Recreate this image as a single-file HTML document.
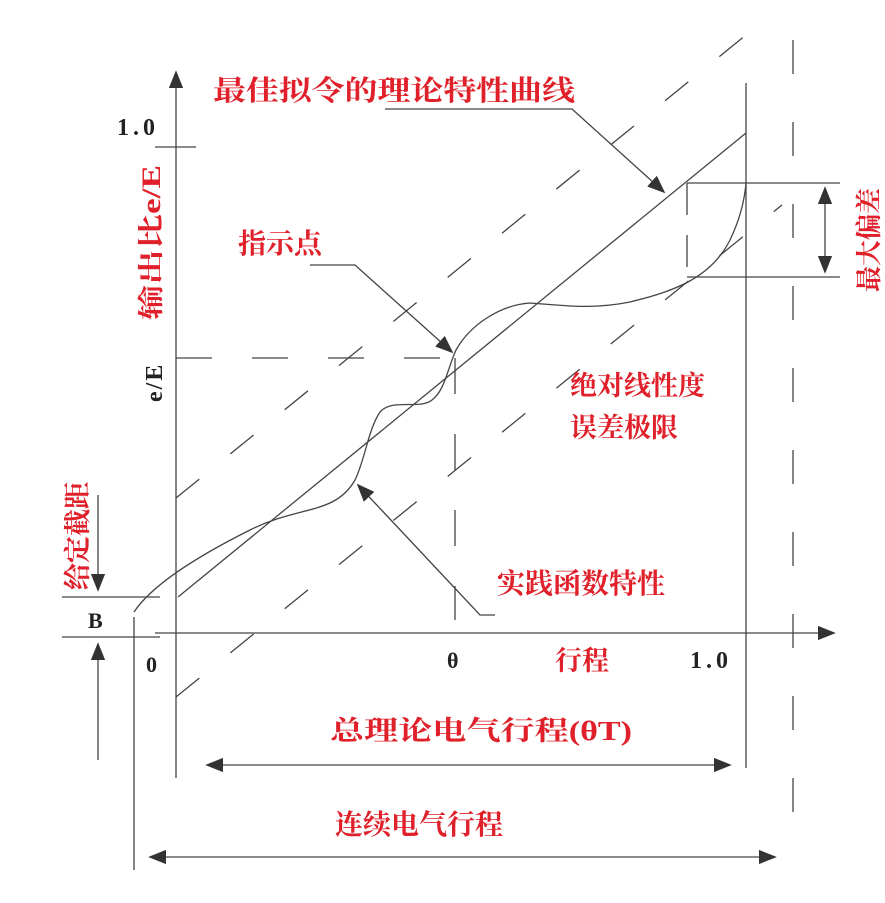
<!DOCTYPE html>
<html><head><meta charset="utf-8"><style>
html,body{margin:0;padding:0;background:#fff;}
svg{display:block;}
.r{fill:#e0202a;font-family:"Liberation Serif","Noto Serif CJK SC",serif;font-weight:bold;}
.k{fill:#222;font-family:"Liberation Serif",serif;font-weight:bold;}
</style></head><body>
<svg width="885" height="903" viewBox="0 0 885 903" xmlns="http://www.w3.org/2000/svg">
<defs>
<marker id="b" viewBox="0 0 10 10" refX="9" refY="5" markerWidth="18" markerHeight="18" markerUnits="userSpaceOnUse" orient="auto-start-reverse"><path d="M0,1 L10,5 L0,9z" fill="#333"/></marker>
</defs>
<g stroke="#444" stroke-width="1.3" fill="none">
<line x1="176" y1="778" x2="176" y2="72" marker-end="url(#b)"/>
<line x1="155" y1="633" x2="834" y2="633" marker-end="url(#b)"/>
<line x1="155" y1="147" x2="196" y2="147"/>
<line x1="746" y1="83" x2="746" y2="768"/>
<line x1="793" y1="40" x2="793" y2="860" stroke-dasharray="34,48"/>
<line x1="134" y1="617" x2="134" y2="870"/>
<line x1="62" y1="597" x2="160" y2="597"/>
<line x1="62" y1="637" x2="160" y2="637"/>
<line x1="98" y1="495" x2="98" y2="590" marker-end="url(#b)"/>
<line x1="98" y1="760" x2="98" y2="644" marker-end="url(#b)"/>
<line x1="178" y1="597" x2="746" y2="133"/>
<line x1="176" y1="498" x2="746" y2="35" stroke-dasharray="30,40"/>
<line x1="176" y1="697" x2="782" y2="205" stroke-dasharray="30,40"/>
<line x1="176" y1="358" x2="455" y2="358" stroke-dasharray="36,40"/>
<line x1="455" y1="358" x2="455" y2="620" stroke-dasharray="36,40"/>
<path d="M134,612 C150,588 190,560 250,530 C300,505 335,515 355,480 C365,460 368,430 380,412 C392,398 420,410 432,400 C445,390 447,370 456,350 C470,325 500,305 530,303 C560,305 590,310 630,302 C670,292 710,280 730,240 C742,215 745,195 746,183"/>
<line x1="687" y1="183" x2="840" y2="183"/>
<line x1="687" y1="277" x2="840" y2="277"/>
<line x1="687" y1="183" x2="687" y2="277" stroke-dasharray="32,20"/>
<line x1="825" y1="188" x2="825" y2="272" marker-start="url(#b)" marker-end="url(#b)"/>
<polyline points="385,109 572,109 664,192" marker-end="url(#b)"/>
<polyline points="310,265 355,265 452,352" marker-end="url(#b)"/>
<polyline points="495,615 480,615 358,485" marker-end="url(#b)"/>
<line x1="207" y1="765" x2="730" y2="765" marker-start="url(#b)" marker-end="url(#b)"/>
<line x1="150" y1="857" x2="775" y2="857" marker-start="url(#b)" marker-end="url(#b)"/>
</g>
<text class="r" x="213" y="100" font-size="28" textLength="362" lengthAdjust="spacingAndGlyphs">最佳拟令的理论特性曲线</text>
<text class="k" x="117" y="135" font-size="24" letter-spacing="4">1.0</text>
<text class="r" font-size="26" transform="translate(160,320) rotate(-90)" textLength="155" lengthAdjust="spacingAndGlyphs">输出比e/E</text>
<text class="k" font-size="24" transform="translate(162,402) rotate(-90)" letter-spacing="2">e/E</text>
<text class="r" x="238" y="253" font-size="28">指示点</text>
<text class="r" x="570" y="395" font-size="27">绝对线性度</text>
<text class="r" x="570" y="437" font-size="27">误差极限</text>
<text class="r" x="497" y="593" font-size="28">实践函数特性</text>
<text class="r" font-size="27" transform="translate(87,590) rotate(-90)">给定截距</text>
<text class="k" x="88" y="628" font-size="22">B</text>
<text class="k" x="146" y="672" font-size="22">0</text>
<text class="k" x="447" y="668" font-size="22">θ</text>
<text class="r" x="555" y="670" font-size="27">行程</text>
<text class="k" x="690" y="668" font-size="24" letter-spacing="4">1.0</text>
<text class="r" x="330" y="740" font-size="27" textLength="302" lengthAdjust="spacingAndGlyphs">总理论电气行程(θT)</text>
<text class="r" x="335" y="834" font-size="28">连续电气行程</text>
<text class="r" font-size="26" transform="translate(878,292) rotate(-90)">最大偏差</text>
</svg>
</body></html>
